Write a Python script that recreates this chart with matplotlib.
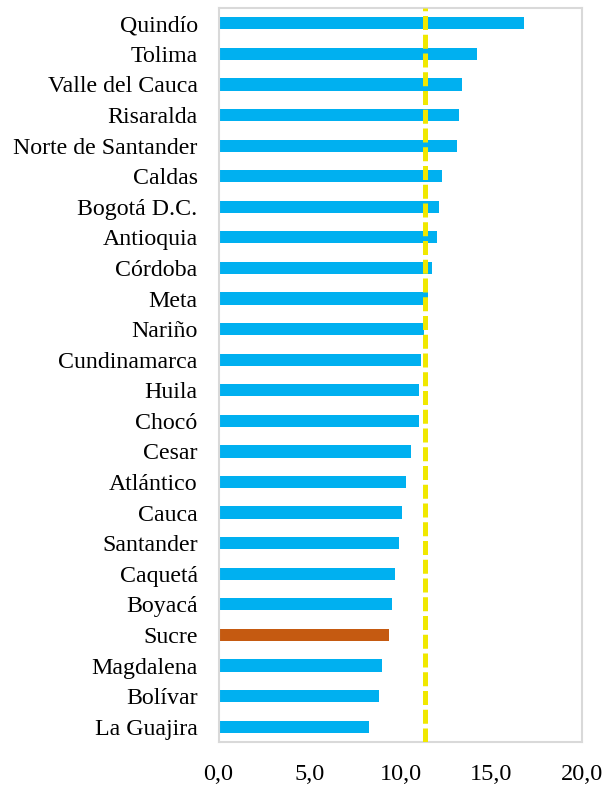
import matplotlib
matplotlib.use("Agg")
import matplotlib.pyplot as plt

# departamentos (de arriba hacia abajo) y valores
departamentos = ['Quindío', 'Tolima', 'Valle del Cauca', 'Risaralda', 'Norte de Santander',
                 'Caldas', 'Bogotá D.C.', 'Antioquia', 'Córdoba', 'Meta', 'Nariño',
                 'Cundinamarca', 'Huila', 'Chocó', 'Cesar', 'Atlántico', 'Cauca',
                 'Santander', 'Caquetá', 'Boyacá', 'Sucre', 'Magdalena', 'Bolívar',
                 'La Guajira']
valores = [16.8, 14.2, 13.4, 13.2, 13.1, 12.3, 12.1, 12.0, 11.75, 11.5, 11.3,
           11.1, 11.0, 11.0, 10.55, 10.3, 10.1, 9.9, 9.7, 9.55, 9.35, 9.0, 8.8, 8.25]
promedio_nacional = 11.35
resaltado = 'Sucre'

xticks = [0, 5, 10, 15, 20]

plt.rcParams['font.family'] = ['Liberation Serif', 'DejaVu Serif']

fig = plt.figure(figsize=(6.06, 7.85), dpi=100)
ax = fig.add_axes([0.3606, 0.0548, 0.6006, 0.935])

colores = ['#C55A11' if d == resaltado else '#00B0F0' for d in departamentos]
pos = list(range(len(departamentos)))
ax.barh(pos, valores, height=0.4, color=colores, zorder=2)
ax.axvline(promedio_nacional, color='#F0E800', linewidth=3.6, linestyle=(0, (2.8, 0.95)), zorder=3)

ax.set_ylim(len(departamentos) - 0.5, -0.5)
ax.set_xlim(0, 20)
ax.set_yticks(pos)
ax.set_yticklabels(departamentos, fontsize=17.2)
ax.set_xticks(xticks)
ax.set_xticklabels([f'{t:.1f}'.replace('.', ',') for t in xticks], fontsize=17.5)
ax.tick_params(length=0)
ax.tick_params(axis='y', pad=15)
ax.tick_params(axis='x', pad=16)

for s in ax.spines.values():
    s.set_color('#D9D9D9')
    s.set_linewidth(1.5)

fig.savefig('out.png', dpi=100)
